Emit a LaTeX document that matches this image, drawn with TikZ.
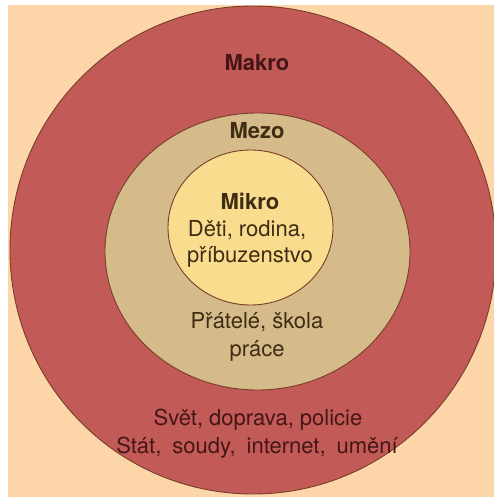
\documentclass[tikz,border=0pt]{standalone}
\usepackage{fontspec}
\setmainfont{TeX Gyre Heros}
\definecolor{bgpeach}{RGB}{252,213,168}
\definecolor{makrored}{RGB}{194,90,88}
\definecolor{mezotan}{RGB}{213,186,138}
\definecolor{mikroyel}{RGB}{249,220,142}
\definecolor{edgebrown}{RGB}{120,62,40}
\definecolor{txtdark}{RGB}{70,22,22}
\definecolor{txtbrown}{RGB}{62,44,20}
\newcommand{\wsp}{\hspace{11bp}}
\begin{document}
\begin{tikzpicture}[x=1bp,y=-1bp,
  ring/.style={draw=edgebrown,line width=0.9bp},
  lbl/.style={anchor=base,inner sep=0,font=\fontsize{22bp}{26bp}\selectfont},
  head/.style={lbl,font=\fontsize{22bp}{26bp}\selectfont\bfseries}]
\useasboundingbox (0,0) rectangle (494,497);
\fill[white] (0,0) rectangle (494,497);
\clip (0,0) rectangle (494,497);
\fill[bgpeach] (8,5) rectangle (494,497);
\draw[ring,fill=makrored] (253,250) ellipse [x radius=243, y radius=244];
\draw[ring,fill=mezotan] (257.5,251.5) ellipse [x radius=152.5, y radius=138.5];
\draw[ring,fill=mikroyel] (250.5,227.5) ellipse [x radius=82.5, y radius=77.5];
\node[head,text=txtdark] (makro) at (257,71) {Makro};
\node[head,text=txtbrown] (mezo) at (257,139) {Mezo};
\node[head,text=txtbrown] (mikro) at (250,209.5) {Mikro};
\node[lbl,text=txtbrown] (mik1) at (247,236) {Děti, rodina,};
\node[lbl,text=txtbrown] (mik2) at (250,262.7) {příbuzenstvo};
\node[lbl,text=txtbrown] (mez1) at (257,328) {Přátelé, škola};
\node[lbl,text=txtbrown] (mez2) at (257,356) {práce};
\node[lbl,text=txtdark] (mak1) at (258,425) {Svět, doprava, policie};
\node[lbl,text=txtdark] (mak2) at (257,453) {Stát,\wsp soudy,\wsp internet,\wsp umění};
\end{tikzpicture}
\end{document}
